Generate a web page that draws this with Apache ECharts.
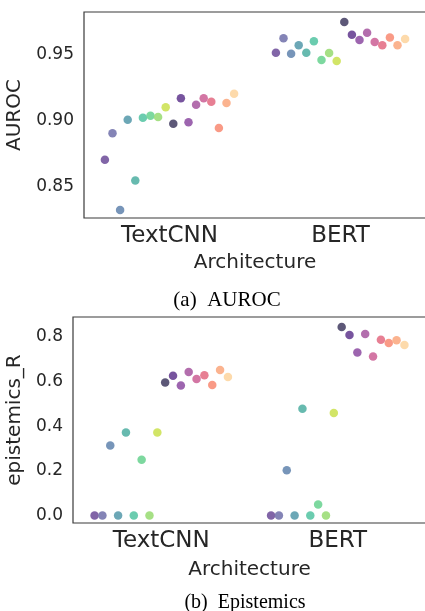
<!DOCTYPE html>
<html>
<head>
<meta charset="utf-8">
<script src="https://cdn.jsdelivr.net/npm/echarts@6/dist/echarts.min.js"></script>
<style>
html,body{margin:0;padding:0;background:#fff;}
#c{width:425px;height:611px;}
</style>
</head>
<body>
<div id="c"></div>
<script>
// ---- data ----
const architectures = ['TextCNN', 'BERT'];
// 18 hue levels (runs), ordered as drawn left to right within each category
const hueColors = ['#76589f','#7a79b0','#6b8cb3','#5f9fb0','#5ab4a8','#5ec8a8','#72d597','#9edd7b','#cee35a',
                   '#4f4a6c','#6b4596','#9558a8','#ac62a6','#cf6a9c','#e5748a','#f8917c','#fbad86','#fdd7a4'];
const aurocTextCNN = [0.8705,0.8905,0.8323,0.9009,0.8546,0.9024,0.9039,0.9029,0.9103,
                      0.8978,0.9171,0.8989,0.9123,0.9171,0.9145,0.8946,0.9136,0.9206];
const aurocBERT    = [0.9517,0.9627,0.9510,0.9574,0.9517,0.9604,0.9462,0.9515,0.9454,
                      0.9751,0.9654,0.9614,0.9669,0.9599,0.9574,0.9634,0.9574,0.9621];
const episTextCNN  = [0.0,0.0,0.314,0.0,0.372,0.0,0.250,0.0,0.372,
                      0.596,0.626,0.583,0.643,0.612,0.628,0.585,0.652,0.621];
const episBERT     = [0.0,0.0,0.202,0.0,0.478,0.0,0.049,0.0,0.459,
                      0.845,0.809,0.731,0.813,0.713,0.788,0.773,0.785,0.764];
const aurocTicks = [0.85, 0.90, 0.95];
const episTicks = [0.0, 0.2, 0.4, 0.6, 0.8];

// ---- build ----
const nHue = hueColors.length;
const dodgeWidth = 0.8;
function offset(h){ return -dodgeWidth/2 + (dodgeWidth/nHue)*(h+0.5); }
function buildData(groups){
  const d = [];
  groups.forEach((vals, ci) => {
    vals.forEach((v, h) => {
      d.push({value:[ci + offset(h), v], itemStyle:{color:hueColors[h]}});
    });
  });
  return d;
}
const txt = '#262626';
const font = 'DejaVu Sans';
function catAxis(gi, nameGap){
  return {type:'category', gridIndex:gi, data:architectures, boundaryGap:true,
    axisLine:{show:false}, axisTick:{show:false}, splitLine:{show:false},
    axisLabel:{color:txt, fontFamily:font, fontSize:23, margin:7},
    name:'Architecture', nameLocation:'middle', nameGap:nameGap,
    nameTextStyle:{color:txt, fontFamily:font, fontSize:20}};
}
function valXAxis(gi){
  return {type:'value', gridIndex:gi, min:-0.5, max:1.5, show:false};
}
function yAx(gi, min, max, ticks, dec, name, gap){
  return {type:'value', gridIndex:gi, min:min, max:max,
    axisLine:{show:false}, axisTick:{show:false}, splitLine:{show:false},
    axisLabel:{color:txt, fontFamily:font, fontSize:17, margin:10,
      customValues:ticks, formatter:v=>v.toFixed(dec)},
    name:name, nameLocation:'middle', nameGap:gap,
    nameTextStyle:{color:txt, fontFamily:font, fontSize:20}};
}
const chart = echarts.init(document.getElementById('c'), null, {renderer:'canvas'});
chart.setOption({
  animation:false,
  backgroundColor:'#fff',
  title:[
    {text:'(a)  AUROC', left:222, top:285, textAlign:'center',
     textStyle:{fontFamily:'Liberation Serif', fontWeight:'normal', fontSize:21, color:'#000'}},
    {text:'(b)  Epistemics', left:240, top:588, textAlign:'center',
     textStyle:{fontFamily:'Liberation Serif', fontWeight:'normal', fontSize:20, color:'#000'}}
  ],
  grid:[
    {left:84, top:12, width:342, height:206, outerBoundsMode:'none', containLabel:false,
     show:true, borderColor:'#3a3a3a', borderWidth:1.2, backgroundColor:'transparent'},
    {left:73, top:317, width:353, height:206, outerBoundsMode:'none', containLabel:false,
     show:true, borderColor:'#3a3a3a', borderWidth:1.2, backgroundColor:'transparent'}
  ],
  xAxis:[catAxis(0, 35), valXAxis(0), catAxis(1, 37), valXAxis(1)],
  yAxis:[
    yAx(0, 0.8262, 0.9827, aurocTicks, 2, 'AUROC', 53),
    yAx(1, -0.034, 0.8897, episTicks, 1, 'epistemics_R', 34)
  ],
  series:[
    {type:'scatter', xAxisIndex:1, yAxisIndex:0, symbolSize:8.5,
     itemStyle:{opacity:0.92}, data:buildData([aurocTextCNN, aurocBERT])},
    {type:'scatter', xAxisIndex:3, yAxisIndex:1, symbolSize:8.5,
     itemStyle:{opacity:0.92}, data:buildData([episTextCNN, episBERT])}
  ]
});
</script>
</body>
</html>
